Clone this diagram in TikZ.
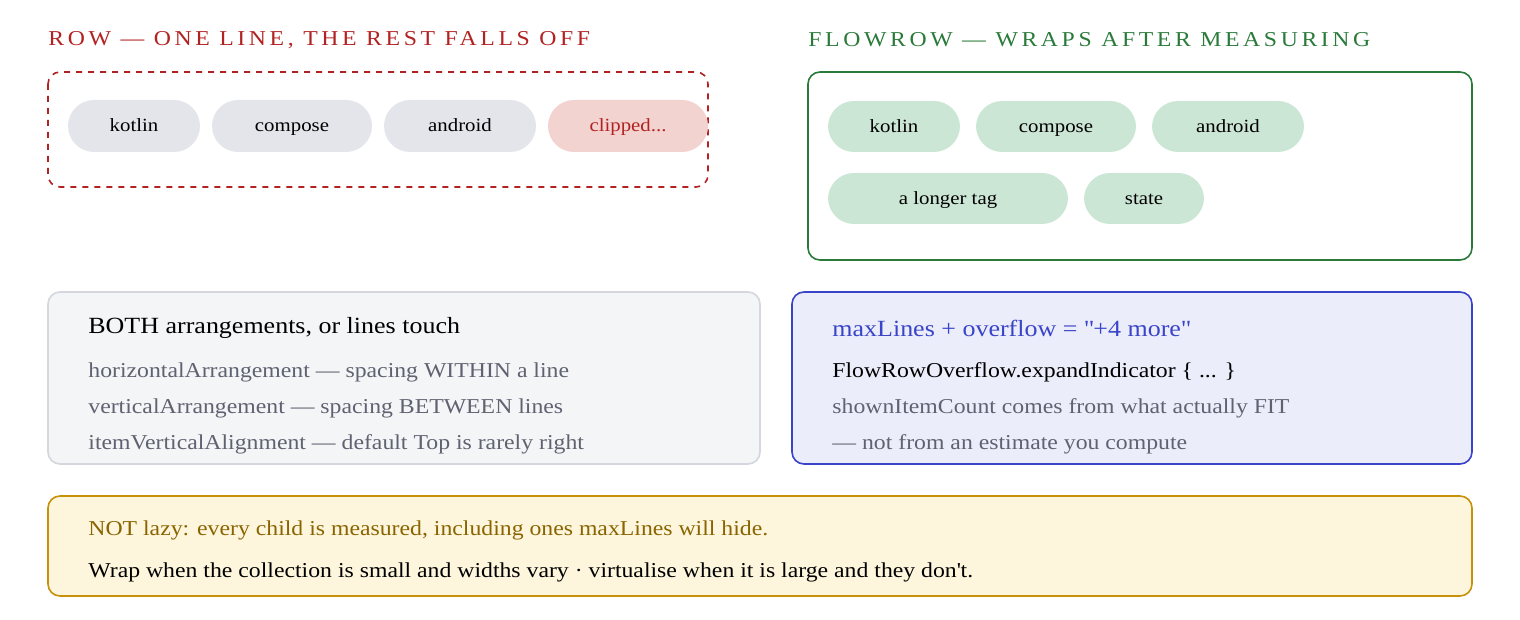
\documentclass[tikz,border=0pt]{standalone}
\usepackage{fontspec}
\setmainfont[FakeStretch=1.12]{Liberation Serif}
\newfontfamily\spaced[LetterSpace=17,FakeStretch=1.12]{Liberation Serif}
\definecolor{rowred}{HTML}{B22222}
\definecolor{flowgreen}{HTML}{2A7A3A}
\definecolor{pillgrey}{HTML}{E4E5EA}
\definecolor{pillpink}{HTML}{F3D3D0}
\definecolor{pillgreen}{HTML}{CCE6D6}
\definecolor{boxgrey}{HTML}{F4F5F7}
\definecolor{bordergrey}{HTML}{D5D7DE}
\definecolor{txtgrey}{HTML}{5F6270}
\definecolor{boxblue}{HTML}{EBEDFA}
\definecolor{blue2}{HTML}{3A44C8}
\definecolor{boxyellow}{HTML}{FDF6DC}
\definecolor{yborder}{HTML}{C9900A}
\definecolor{ytext}{HTML}{8A6400}
\begin{document}
\begin{tikzpicture}[x=0.5pt,y=-0.5pt,
  title/.style={anchor=west,inner sep=0,font=\spaced\fontsize{10.6}{12}\selectfont},
  pill/.style={rounded corners=13pt,draw=none},
  pilltext/.style={font=\fontsize{9.3}{11}\selectfont,text height=1.6ex,text depth=0.45ex},
  txt/.style={anchor=west,inner sep=0,font=\fontsize{10.6}{12}\selectfont},
  head/.style={anchor=west,inner sep=0,font=\fontsize{11.6}{13}\selectfont}]
\useasboundingbox (0,0) rectangle (1520,620);
% Row side
\node[title,text=rowred] (t1) at (48,40) {ROW — ONE LINE, THE REST FALLS OFF};
\draw[rowred,dashed,line width=0.8pt,rounded corners=6pt] (48,72) rectangle (708,187);
\foreach \a/\b/\t/\n in {68/200/kotlin/r1,212/372/compose/r2,384/536/android/r3}{
  \fill[pillgrey,pill] (\a,100) rectangle (\b,152);
  \node[pilltext] (\n) at ({(\a+\b)/2},126) {\t};}
\fill[pillpink,pill] (548,100) rectangle (708,152);
\node[pilltext,text=rowred] (r4) at (628,126) {clipped...};
% FlowRow side
\node[title,text=flowgreen] (t2) at (808,40) {FLOWROW — WRAPS AFTER MEASURING};
\draw[flowgreen,line width=0.8pt,rounded corners=6pt] (808,72) rectangle (1472,260);
\foreach \a/\b/\y/\t/\n in {828/960/101/kotlin/f1,976/1136/101/compose/f2,1152/1304/101/android/f3,828/1068/173/a longer tag/f4,1084/1204/173/state/f5}{
  \fill[pillgreen,pill] (\a,\y) rectangle (\b,\y+51);
  \node[pilltext] (\n) at ({(\a+\b)/2},\y+26) {\t};}
% grey box
\draw[bordergrey,fill=boxgrey,line width=0.8pt,rounded corners=6pt] (48,292) rectangle (760,464);
\node[head] (g0) at (88,328) {BOTH arrangements, or lines touch};
\node[txt,text=txtgrey] (g1) at (88,372) {horizontalArrangement — spacing WITHIN a line};
\node[txt,text=txtgrey] (g2) at (88,408) {verticalArrangement — spacing BETWEEN lines};
\node[txt,text=txtgrey] (g3) at (88,444) {itemVerticalAlignment — default Top is rarely right};
% blue box
\draw[blue2,fill=boxblue,line width=0.8pt,rounded corners=6pt] (792,292) rectangle (1472,464);
\node[head,text=blue2] (b0) at (832,328) {maxLines + overflow = \textquotedbl+4 more\textquotedbl};
\node[txt] (b1) at (832,372) {FlowRowOverflow.expandIndicator \{ ... \}};
\node[txt,text=txtgrey] (b2) at (832,408) {shownItemCount comes from what actually FIT};
\node[txt,text=txtgrey] (b3) at (832,444) {— not from an estimate you compute};
% yellow box
\draw[yborder,fill=boxyellow,line width=0.8pt,rounded corners=6pt] (48,496) rectangle (1472,596);
\node[txt,text=ytext] (y1) at (88,530) {NOT lazy: every child is measured, including ones maxLines will hide.};
\node[txt] (y2) at (88,572) {Wrap when the collection is small and widths vary · virtualise when it is large and they don\textquotesingle t.};
\end{tikzpicture}
\end{document}
